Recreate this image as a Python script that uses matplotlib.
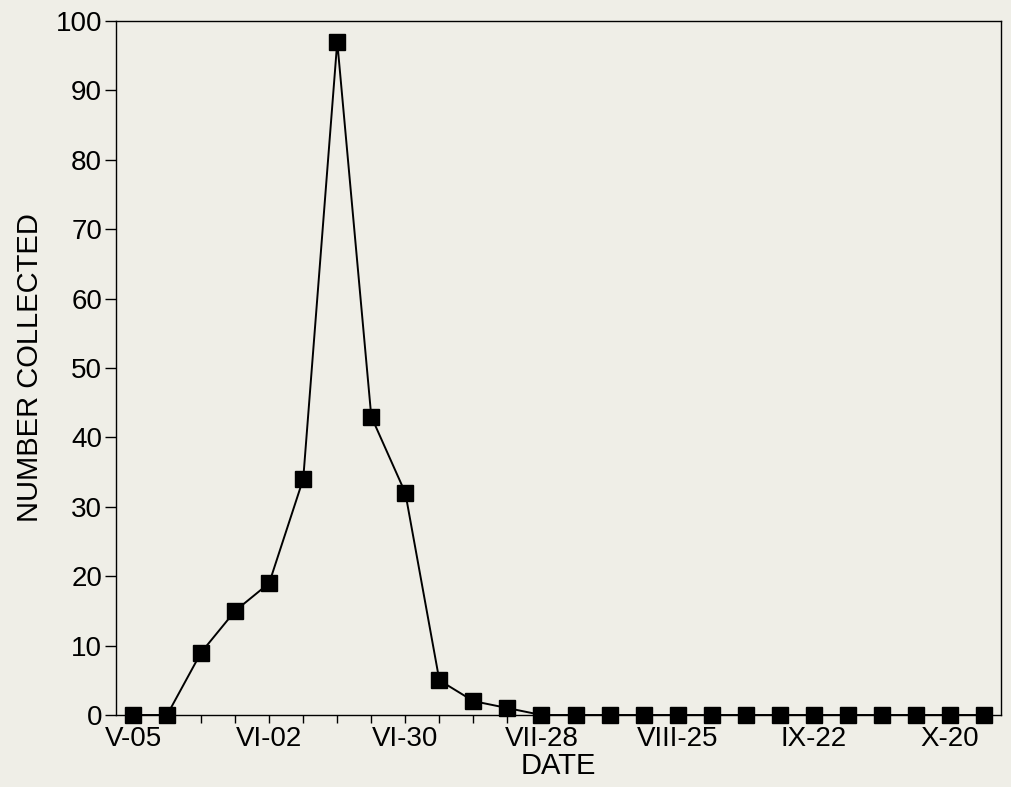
import matplotlib
matplotlib.use("Agg")
import matplotlib.pyplot as plt

counts = [0, 0, 9, 15, 19, 34, 97, 43, 32, 5, 2, 1, 0, 0, 0, 0, 0, 0, 0, 0, 0, 0, 0, 0, 0, 0]
date_labels = ["V-05", "VI-02", "VI-30", "VII-28", "VIII-25", "IX-22", "X-20"]
y_ticks = [0, 10, 20, 30, 40, 50, 60, 70, 80, 90, 100]

plt.rcParams['font.family'] = ['Liberation Sans', 'DejaVu Sans']
bg = "#efeee7"
fig = plt.figure(figsize=(10.11, 7.87), dpi=100, facecolor=bg)
ax = fig.add_axes([116/1011, 1 - 715/787, (1001 - 116)/1011, (715 - 21)/787], facecolor=bg)

x = list(range(len(counts)))
ax.plot(x, counts, color="black", lw=1.4, marker="s", markersize=11.5,
        markerfacecolor="black", markeredgecolor="black", clip_on=False, zorder=3)

ax.set_xlim(-0.5, len(counts) - 0.5)
ax.set_ylim(0, 100)
ax.set_xticks(x)
labels = []
for i in x:
    labels.append(date_labels[i // 4] if i % 4 == 0 else "")
ax.set_xticklabels(labels)
ax.set_yticks(y_ticks)
ax.tick_params(axis="both", direction="out", length=6, width=1.0, labelsize=20, pad=2, colors="black")
ax.tick_params(axis="y", length=8)
ax.set_xlabel("DATE", fontsize=21, labelpad=0)
ax.set_ylabel("NUMBER COLLECTED", fontsize=21, labelpad=8)
for s in ax.spines.values():
    s.set_linewidth(1.0)

fig.savefig("out.png", dpi=100, facecolor=bg)
